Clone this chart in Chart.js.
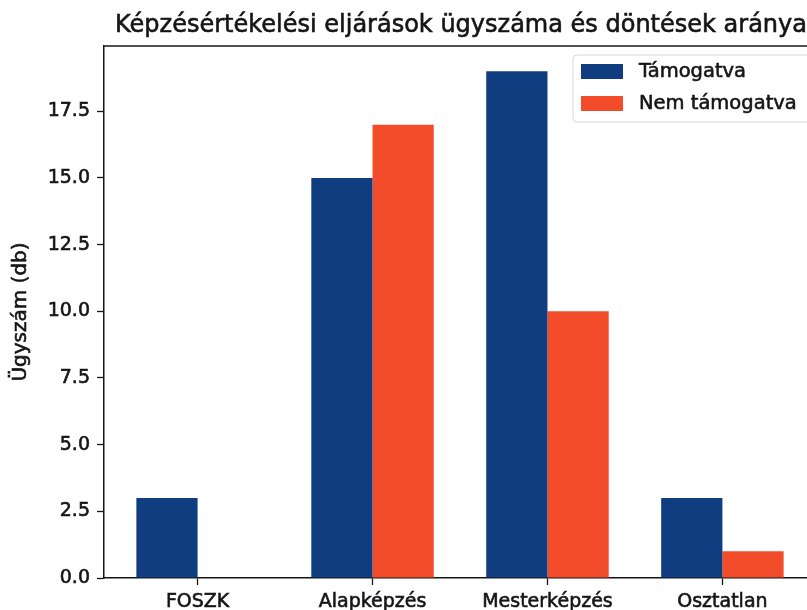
<!DOCTYPE html>
<html>
<head>
<meta charset="utf-8">
<script src="https://cdn.jsdelivr.net/npm/chart.js@4.4.1/dist/chart.umd.min.js"></script>
<style>
  html, body { margin: 0; padding: 0; background: #fff; }
  #wrap { width: 807px; height: 610px; overflow: hidden; position: relative; }
  canvas { display: block; }
</style>
</head>
<body>
<div id="wrap"><canvas id="chart" width="830" height="610"></canvas></div>
<script>
const TITLE = 'Képzésértékelési eljárások ügyszáma és döntések aránya';
const CATEGORIES = ['FOSZK', 'Alapképzés', 'Mesterképzés', 'Osztatlan'];
const SUPPORTED = [3, 15, 19, 3];
const NOT_SUPPORTED = [0, 17, 10, 1];
const Y_TICKS = [0, 2.5, 5, 7.5, 10, 12.5, 15, 17.5];
const Y_LABEL = 'Ügyszám (db)';

const BLUE = '#103c80';
const RED = '#f24c2b';
const INK = '#151515';
const FONT = '"DejaVu Sans", sans-serif';

const toPoints = arr => arr.map((v, i) => ({ x: i, y: v }));

// slightly heavier text, the reference is a darkened scan
function boldText(ctx, text, x, y) {
  ctx.fillText(text, x, y);
  ctx.strokeText(text, x, y);
}

// title, y label, top spine and legend box drawn by hand (matplotlib look)
const decor = {
  id: 'decor',
  afterDraw(chart) {
    const { ctx, chartArea: a } = chart;
    ctx.save();
    ctx.strokeStyle = INK;
    ctx.lineWidth = 1.5;
    ctx.beginPath();
    ctx.moveTo(a.left, a.top);
    ctx.lineTo(a.right, a.top);
    ctx.stroke();

    ctx.fillStyle = INK;
    ctx.lineWidth = 0.6;
    ctx.font = '24px ' + FONT;
    ctx.textAlign = 'center';
    ctx.textBaseline = 'alphabetic';
    boldText(ctx, TITLE, 461, 32);

    // y axis label
    ctx.save();
    ctx.translate(21, (a.top + a.bottom) / 2);
    ctx.rotate(-Math.PI / 2);
    ctx.font = '20px ' + FONT;
    ctx.textBaseline = 'middle';
    boldText(ctx, Y_LABEL, 0, 0);
    ctx.restore();

    // legend
    const lx = 573, ly = 55, lw = 240, lh = 67;
    ctx.strokeStyle = '#d8d8d8';
    ctx.lineWidth = 1;
    ctx.fillStyle = 'rgba(255,255,255,0.85)';
    ctx.beginPath();
    ctx.roundRect(lx, ly, lw, lh, 4);
    ctx.fill();
    ctx.stroke();
    ctx.font = '19.5px ' + FONT;
    ctx.textAlign = 'left';
    ctx.textBaseline = 'middle';
    ctx.strokeStyle = INK;
    ctx.lineWidth = 0.6;
    chart.data.datasets.forEach((ds, i) => {
      const y = 72 + i * 32;
      ctx.fillStyle = ds.backgroundColor;
      ctx.fillRect(581, y - 8, 42, 15);
      ctx.fillStyle = INK;
      boldText(ctx, ds.label, 639, y);
    });
    ctx.restore();
  }
};

new Chart(document.getElementById('chart'), {
  type: 'bar',
  data: {
    datasets: [
      { label: 'Támogatva', data: toPoints(SUPPORTED), backgroundColor: BLUE },
      { label: 'Nem támogatva', data: toPoints(NOT_SUPPORTED), backgroundColor: RED }
    ]
  },
  options: {
    responsive: false,
    animation: false,
    devicePixelRatio: 1,
    categoryPercentage: 0.7,
    barPercentage: 1.0,
    layout: { padding: { top: 46, right: 14, left: 0, bottom: 0 } },
    plugins: { legend: { display: false }, tooltip: { enabled: false }, title: { display: false } },
    scales: {
      x: {
        type: 'linear',
        offset: false,
        min: -0.535,
        max: 3.535,
        afterBuildTicks: s => { s.ticks = CATEGORIES.map((_, i) => ({ value: i })); },
        afterFit: s => { s.height = 32; },
        grid: { offset: false, drawOnChartArea: false, drawTicks: true, tickLength: 7, tickColor: INK, tickWidth: 1.3 },
        border: { display: true, color: INK, width: 1.5 },
        ticks: {
          color: INK, padding: 6, maxRotation: 0, autoSkip: false,
          textStrokeColor: INK, textStrokeWidth: 0.6,
          font: { family: FONT, size: 19 },
          callback: v => CATEGORIES[v]
        }
      },
      y: {
        min: 0,
        max: 19.95,
        afterBuildTicks: s => { s.ticks = Y_TICKS.map(v => ({ value: v })); },
        afterFit: s => { s.width = 104; },
        grid: { drawOnChartArea: false, drawTicks: true, tickLength: 7, tickColor: INK, tickWidth: 1.3 },
        border: { display: true, color: INK, width: 1.5 },
        ticks: {
          color: INK, padding: 7,
          textStrokeColor: INK, textStrokeWidth: 0.6,
          font: { family: FONT, size: 19 },
          callback: v => v.toFixed(1)
        }
      }
    }
  },
  plugins: [decor]
});
</script>
</body>
</html>
